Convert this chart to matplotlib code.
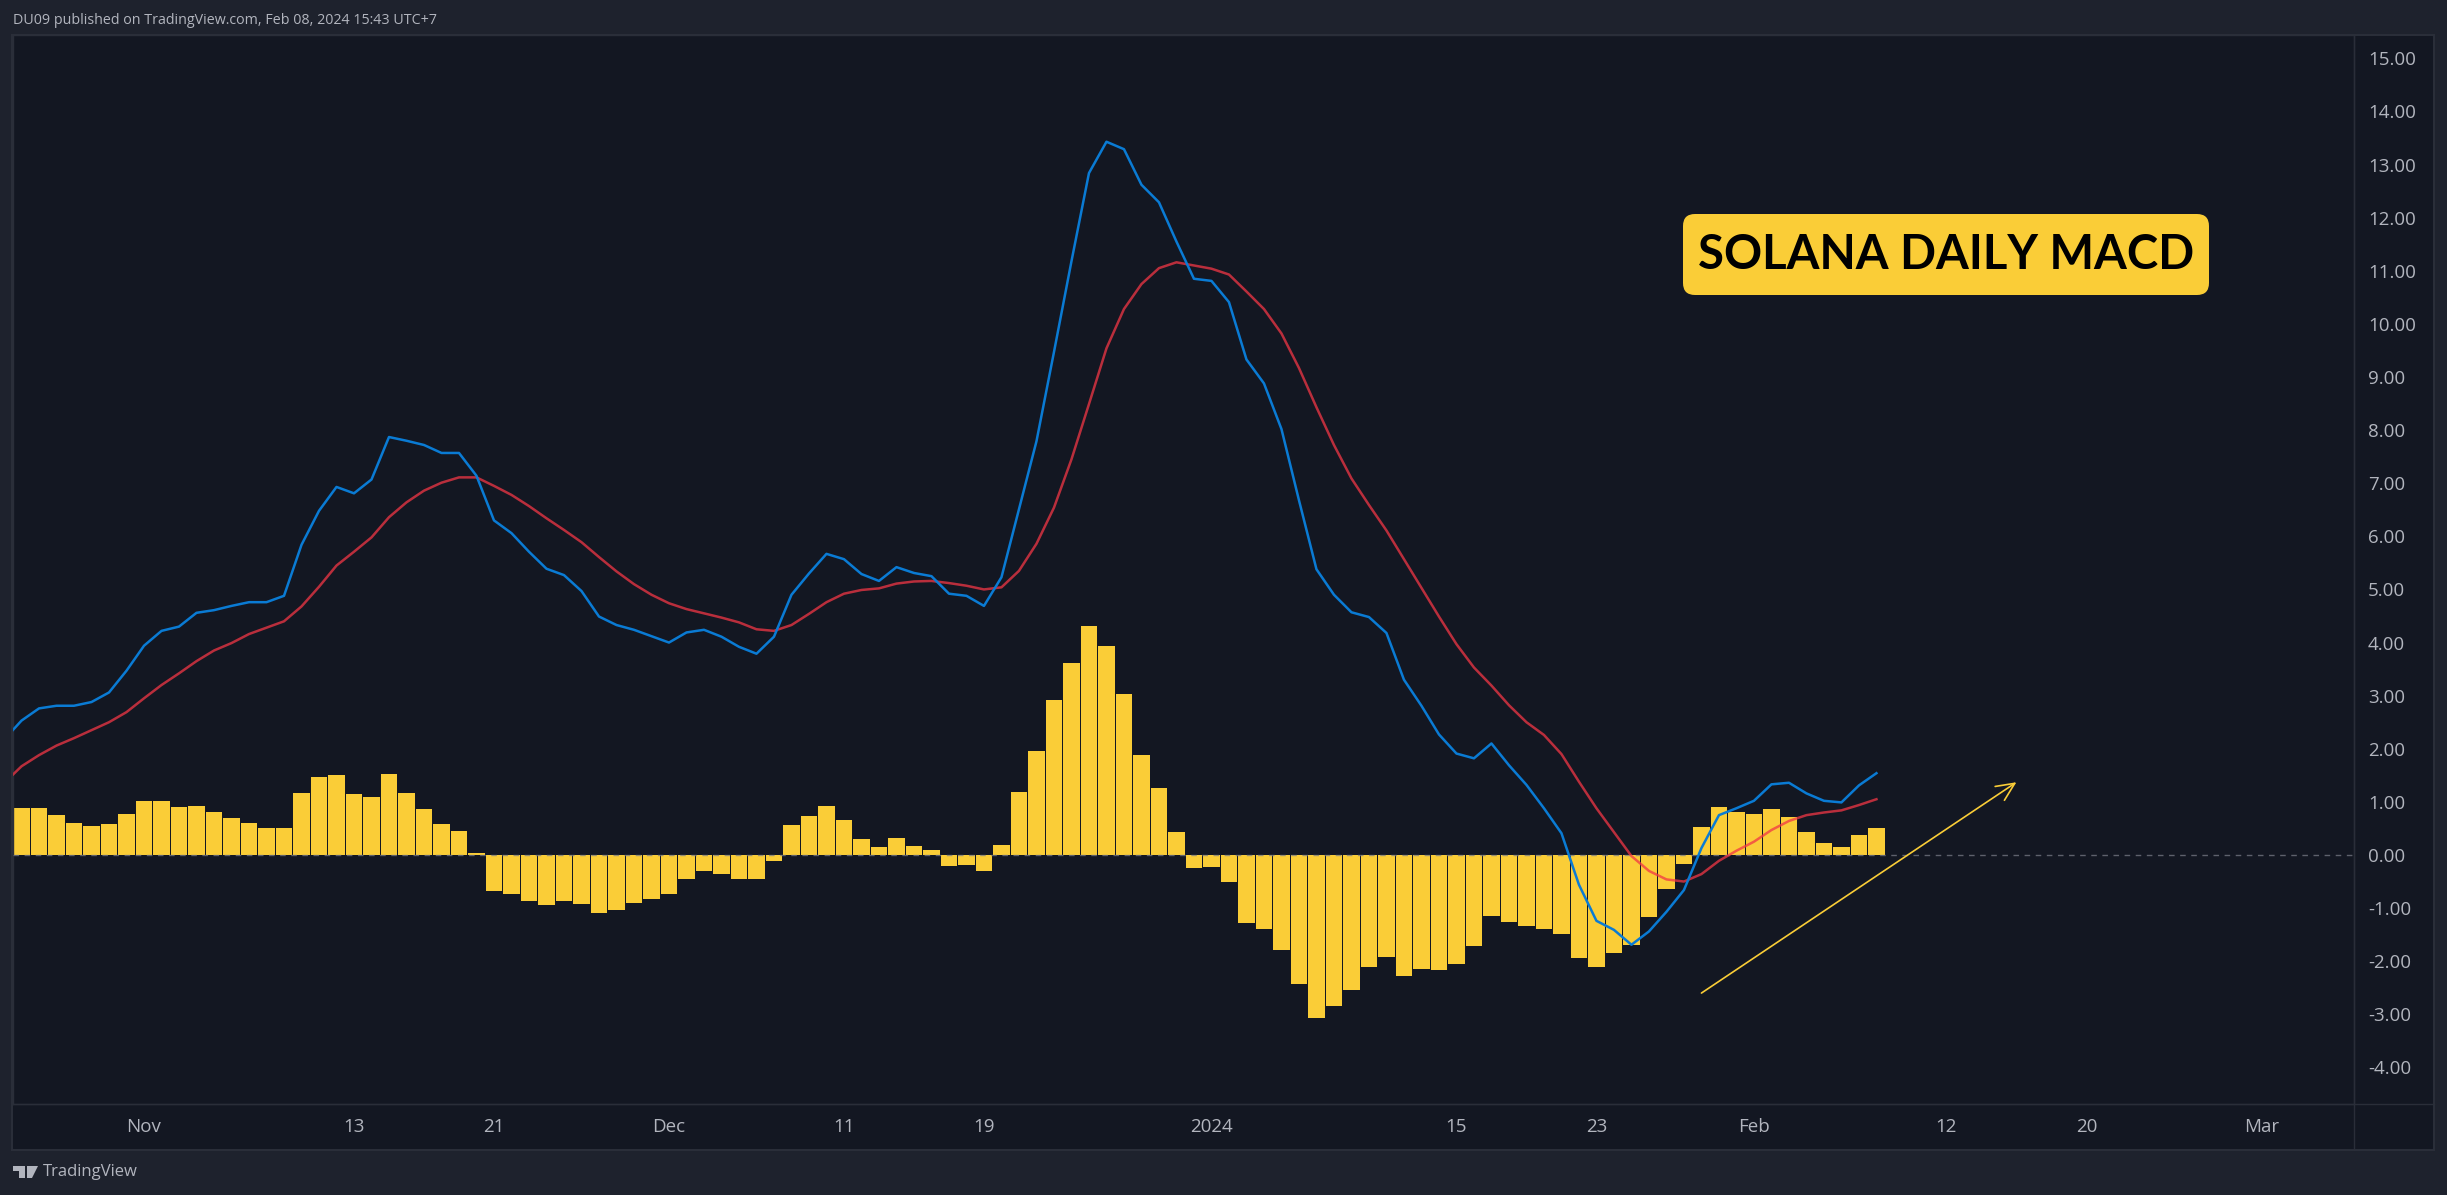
"""Solana daily MACD, dark TradingView style."""

import matplotlib

matplotlib.use("Agg")
import matplotlib.pyplot as plt
import pandas as pd
from matplotlib.patches import FancyBboxPatch, Polygon, Rectangle

# histogram, 25 Oct 2023 to 8 Feb 2024
hist = [
    0.89, 0.89, 0.76, 0.61, 0.55, 0.59, 0.78,
    1.02, 1.02, 0.91, 0.93, 0.80, 0.70, 0.61, 0.50, 0.50, 1.17, 1.46, 1.51, 1.14, 1.10,
    1.53, 1.17, 0.87, 0.59, 0.46, 0.03, -0.67, -0.73, -0.86, -0.94, -0.86, -0.92, -1.10,
    -1.03, -0.90, -0.82,
    -0.73, -0.45, -0.31, -0.35, -0.45, -0.45, -0.11, 0.57, 0.74, 0.92, 0.66, 0.30, 0.145,
    0.32, 0.17, 0.09, -0.21, -0.18, -0.30, 0.18, 1.18, 1.95, 2.91, 3.62, 4.32, 3.94, 3.03,
    1.88, 1.26, 0.43, -0.25,
    -0.23, -0.51, -1.28, -1.40, -1.79, -2.43, -3.07, -2.85, -2.55, -2.11, -1.92, -2.27,
    -2.15, -2.17, -2.06, -1.72, -1.15, -1.26, -1.34, -1.39, -1.49, -1.94, -2.11, -1.85,
    -1.69, -1.17, -0.64, -0.17, 0.53, 0.90, 0.81,
    0.77, 0.87, 0.72, 0.43, 0.23, 0.15, 0.38, 0.51,
]

# lines start one day earlier, that point is clipped by the left edge
macd = [
    2.17, 2.53, 2.76, 2.81, 2.81, 2.88, 3.06, 3.47,
    3.94, 4.22, 4.30, 4.56, 4.61, 4.69, 4.76, 4.76, 4.88, 5.84, 6.48, 6.93, 6.81, 7.07,
    7.87, 7.80, 7.72, 7.57, 7.57, 7.14, 6.30, 6.06, 5.71, 5.39, 5.27, 4.97, 4.49, 4.33,
    4.24, 4.12,
    4.00, 4.19, 4.24, 4.11, 3.92, 3.79, 4.11, 4.90, 5.30, 5.67, 5.57, 5.29, 5.16, 5.42,
    5.31, 5.25, 4.92, 4.88, 4.69, 5.23, 6.51, 7.79, 9.47, 11.18, 12.84, 13.43, 13.29,
    12.62, 12.29, 11.55, 10.85,
    10.81, 10.41, 9.33, 8.88, 8.02, 6.68, 5.38, 4.90, 4.57, 4.48, 4.18, 3.30, 2.81, 2.27,
    1.91, 1.82, 2.10, 1.69, 1.32, 0.88, 0.41, -0.56, -1.24, -1.41, -1.69, -1.44, -1.07,
    -0.66, 0.13, 0.75, 0.88,
    1.02, 1.33, 1.36, 1.16, 1.02, 0.99, 1.31, 1.54,
]
signal = [
    1.35, 1.67, 1.88, 2.06, 2.20, 2.35, 2.50, 2.69,
    2.95, 3.20, 3.42, 3.65, 3.85, 3.99, 4.16, 4.28, 4.40, 4.68, 5.05, 5.45, 5.71, 5.98,
    6.36, 6.64, 6.86, 7.01, 7.11, 7.11, 6.95, 6.78, 6.57, 6.34, 6.12, 5.89, 5.61, 5.34,
    5.10, 4.90,
    4.74, 4.63, 4.55, 4.47, 4.38, 4.25, 4.22, 4.33, 4.54, 4.76, 4.92, 4.99, 5.02, 5.11,
    5.15, 5.16, 5.12, 5.07, 5.00, 5.04, 5.35, 5.86, 6.54, 7.45, 8.49, 9.54, 10.28, 10.75,
    11.05, 11.16, 11.10,
    11.04, 10.93, 10.61, 10.28, 9.82, 9.17, 8.43, 7.72, 7.09, 6.59, 6.11, 5.57, 5.03,
    4.49, 3.97, 3.53, 3.19, 2.82, 2.50, 2.26, 1.90, 1.38, 0.88, 0.43, -0.02, -0.30, -0.46,
    -0.50, -0.36, -0.11, 0.08,
    0.25, 0.47, 0.64, 0.75, 0.80, 0.84, 0.94, 1.05,
]

x_tick_dates = ["2023-11-01", "2023-11-13", "2023-11-21", "2023-12-01", "2023-12-11",
                "2023-12-19", "2024-01-01", "2024-01-15", "2024-01-23", "2024-02-01",
                "2024-02-12", "2024-02-20", "2024-03-01"]
x_tick_labels = ["Nov", "13", "21", "Dec", "11", "19", "2024", "15", "23", "Feb", "12",
                 "20", "Mar"]
y_ticks = list(range(-4, 16))
arrow_start = ("2024-01-29", -2.60)
arrow_end = ("2024-02-16", 1.37)

PANE = "#131722"
OUTER = "#1E222D"
BORDER = "#2A2E39"
YELLOW = "#FACD37"
BLUE = "#0A7BD4"
RED = "#F23645"
TEXT = "#B2B5BE"
W, H = 2447, 1195

plt.rcParams["font.family"] = ["Open Sans", "DejaVu Sans"]

fig = plt.figure(figsize=(W / 100, H / 100), dpi=100, facecolor=OUTER)

# pixel-coordinate layer under the chart, for the pane background
bg = fig.add_axes([0, 0, 1, 1], zorder=-1)
bg.set_xlim(0, W)
bg.set_ylim(H, 0)
bg.axis("off")
bg.add_patch(Rectangle((13, 35), 2421, 1114, fc=PANE, ec="none"))

ax = fig.add_axes([13 / W, 1 - 1104 / H, (2354 - 13) / W, (1104 - 35) / H], facecolor=PANE)

bar_days = pd.date_range("2023-10-25", periods=len(hist))
line_days = pd.date_range("2023-10-24", periods=len(macd))

ax.bar(bar_days, hist, width=0.93, color=YELLOW, zorder=2)
ax.axhline(0, color="#787B86", lw=1, ls=(0, (4, 4)), alpha=0.75, zorder=3)
ax.plot(line_days, signal, color=RED, lw=1.8, alpha=0.75, zorder=4)
ax.plot(line_days, macd, color=BLUE, lw=1.8, zorder=5)
ax.annotate("", xy=(pd.Timestamp(arrow_end[0]), arrow_end[1]),
            xytext=(pd.Timestamp(arrow_start[0]), arrow_start[1]),
            arrowprops=dict(arrowstyle="->,head_length=1.3,head_width=0.6", color=YELLOW,
                            lw=1.2, shrinkA=0, shrinkB=0), zorder=6)

nov1 = pd.Timestamp("2023-11-01")
ax.set_xlim(nov1 + pd.Timedelta(days=-7.486), nov1 + pd.Timedelta(days=126.29))
ax.set_ylim(-4.689, 15.44)

ax.set_xticks(pd.to_datetime(x_tick_dates))
ax.set_xticklabels(x_tick_labels)
ax.yaxis.tick_right()
ax.set_yticks(y_ticks)
ax.set_yticklabels([f"{v:.2f}" for v in y_ticks])
ax.tick_params(axis="x", length=0, pad=10, labelsize=13.5, colors=TEXT)
ax.tick_params(axis="y", length=0, pad=10, labelsize=13.5, colors=TEXT)
for label in ax.get_yticklabels():
    label.set_verticalalignment("center_baseline")
for spine in ax.spines.values():
    spine.set_color(BORDER)
    spine.set_linewidth(1)

# overlay in pixel coordinates for the frame, header, logo and title box
ov = fig.add_axes([0, 0, 1, 1], zorder=10)
ov.set_xlim(0, W)
ov.set_ylim(H, 0)
ov.axis("off")
ov.add_patch(Rectangle((12, 34.5), 2422, 1115, fc="none", ec=BORDER, lw=1.5))
ov.plot([2354, 2354], [35, 1149], color=BORDER, lw=1)
ov.plot([13, 2434], [1104, 1104], color=BORDER, lw=1)

ov.text(13, 20, "DU09 published on TradingView.com, Feb 08, 2024 15:43 UTC+7",
        color=TEXT, fontsize=10.25, va="center", ha="left")
ov.text(43, 1172, "TradingView", color=TEXT, fontsize=12, va="center", ha="left")
ov.add_patch(Polygon([(13, 1166), (25, 1166), (25, 1178), (19, 1178), (19, 1171), (13, 1171)],
                     fc=TEXT, ec="none"))
ov.add_patch(Polygon([(27, 1166), (38, 1166), (32, 1178), (27, 1178)], fc=TEXT, ec="none"))

ov.add_patch(FancyBboxPatch((1695, 226), 502, 57, boxstyle="round,pad=12,rounding_size=12",
                            fc=YELLOW, ec="none"))
ov.text(1946, 251, "SOLANA DAILY MACD", color="black", fontsize=34, fontweight="bold",
        family="Lato", ha="center", va="center_baseline")

fig.savefig("out.png", dpi=100, facecolor=OUTER)
